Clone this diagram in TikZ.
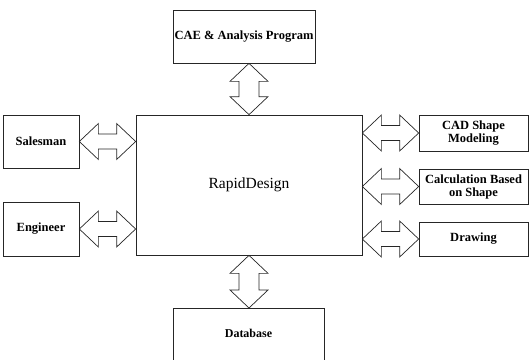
\documentclass[tikz,border=0pt]{standalone}
\usepackage{fontspec}
\setmainfont{Liberation Serif}
\usetikzlibrary{calc}
\tikzset{
    box/.style={rectangle, draw=black!85, line width=0.7pt, inner sep=0pt, align=center, font=\fontsize{12.5}{13}\selectfont\bfseries},
    hblock/.style={draw=black!85, line width=0.7pt, line join=miter, to path={
        let \p1=(\tikztostart), \p2=(\tikztotarget) in
        -- ({\x1+19pt},{\y1+18pt}) -- ({\x1+19pt},{\y1+7.5pt}) -- ({\x2-19pt},{\y1+7.5pt}) -- ({\x2-19pt},{\y1+18pt})
        -- (\x2,\y1) -- ({\x2-19pt},{\y1-18pt}) -- ({\x2-19pt},{\y1-7.5pt}) -- ({\x1+19pt},{\y1-7.5pt}) -- ({\x1+19pt},{\y1-18pt}) -- cycle}},
    vblock/.style={draw=black!85, line width=0.7pt, line join=miter, to path={
        let \p1=(\tikztostart), \p2=(\tikztotarget) in
        -- ({\x1+19pt},{\y1-18pt}) -- ({\x1+10pt},{\y1-18pt}) -- ({\x1+10pt},{\y2+18pt}) -- ({\x1+19pt},{\y2+18pt})
        -- (\x1,\y2) -- ({\x1-19pt},{\y2+18pt}) -- ({\x1-10pt},{\y2+18pt}) -- ({\x1-10pt},{\y1-18pt}) -- ({\x1-19pt},{\y1-18pt}) -- cycle}}
}

\begin{document}
\begin{tikzpicture}[x=1pt, y=-1pt]
    \clip (0,0) rectangle (529,359);
    % Nodes
    \node (main) [box, minimum width=226pt, minimum height=140pt, font=\fontsize{15.5}{17}\selectfont] at (249,185) {RapidDesign};
    \node (cae) [box, minimum width=142pt, minimum height=53pt] at (244,36.5) {CAE \& Analysis Program};
    \node (sales) [box, minimum width=76pt, minimum height=53pt] at (41,141.5) {Salesman};
    \node (eng) [box, minimum width=76pt, minimum height=54pt] at (41,229) {Engineer};
    \node (cad) [box, minimum width=109pt, minimum height=36pt] at (473.5,133) {CAD Shape\\Modeling};
    \node (calc) [box, minimum width=109pt, minimum height=35pt] at (473.5,186.5) {Calculation Based\\on Shape};
    \node (drawing) [box, minimum width=109pt, minimum height=34pt] at (473.5,239) {Drawing};
    \node (db) [box, anchor=north, minimum width=151pt, text height=29pt, text depth=33pt, font=\fontsize{12}{13}\selectfont\bfseries] at (248.5,308) {Database};

    % Arrows
    \draw [vblock] (main.north |- cae.south) to (main.north);
    \draw [vblock] (main.south) to (main.south |- db.north);
    \draw [hblock] (sales.east) to (main.west |- sales.east);
    \draw [hblock] (eng.east) to (main.west |- eng.east);
    \draw [hblock] (main.east |- cad.west) to (cad.west);
    \draw [hblock] (main.east |- calc.west) to (calc.west);
    \draw [hblock] (main.east |- drawing.west) to (drawing.west);
\end{tikzpicture}
\end{document}
